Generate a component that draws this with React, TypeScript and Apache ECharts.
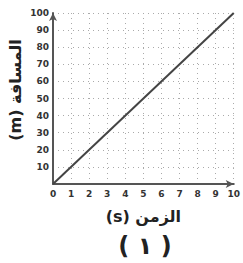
import React, { useEffect, useRef } from "react";
import * as echarts from "echarts";

const timeValues = [0, 10];
const distanceValues = [0, 100];
const yAxisTitle = "(m) المسافة";
const xAxisTitle = "(s) الزمن";
const caption = "( ١ )";

export default function App() {
  const ref = useRef<HTMLDivElement>(null);
  useEffect(() => {
    const chart = echarts.init(ref.current!, undefined, { renderer: "svg" });
    chart.setOption({
      animation: false,
      backgroundColor: "#fff",
      grid: { left: 53, top: 13, right: 4, bottom: 79, containLabel: false },
      xAxis: {
        type: "value",
        min: 0,
        max: 10,
        interval: 1,
        name: xAxisTitle,
        nameLocation: "middle",
        nameGap: 24,
        nameTextStyle: { fontSize: 16, fontWeight: "bold", color: "#222", fontFamily: "DejaVu Sans" },
        axisLine: { show: true, symbol: ["none", "arrow"], symbolSize: [6, 8], lineStyle: { color: "#555", width: 2 } },
        axisTick: { show: false },
        axisLabel: { fontSize: 9, fontWeight: "bold", color: "#333", margin: 5, fontFamily: "DejaVu Sans" },
        splitLine: { show: true, lineStyle: { color: "#aaa", type: [1, 4], width: 1 } },
      },
      yAxis: {
        type: "value",
        min: 0,
        max: 100,
        interval: 10,
        axisLine: { show: true, symbol: ["none", "arrow"], symbolSize: [6, 8], lineStyle: { color: "#555", width: 2 } },
        axisTick: { show: false },
        axisLabel: {
          fontSize: 9,
          fontWeight: "bold",
          color: "#333",
          margin: 4,
          fontFamily: "DejaVu Sans",
          formatter: (v: number) => (v === 0 ? "" : String(v)),
        },
        splitLine: { show: true, lineStyle: { color: "#aaa", type: [1, 4], width: 1 } },
      },
      series: [
        {
          type: "line",
          data: timeValues.map((t, i) => [t, distanceValues[i]]),
          showSymbol: false,
          lineStyle: { color: "#444", width: 2 },
        },
      ],
      graphic: [
        {
          type: "text",
          x: 15,
          y: 90,
          rotation: Math.PI / 2,
          style: {
            text: yAxisTitle,
            fontSize: 16,
            fontWeight: "bold",
            fill: "#222",
            fontFamily: "DejaVu Sans",
            align: "center",
            verticalAlign: "middle",
          },
        },
        {
          type: "text",
          x: 145,
          y: 246,
          style: {
            text: caption,
            fontSize: 24,
            fontWeight: "bold",
            fill: "#222",
            fontFamily: "DejaVu Sans",
            align: "center",
            verticalAlign: "middle",
          },
        },
      ],
    });
    return () => chart.dispose();
  }, []);
  return <div ref={ref} style={{ width: 243, height: 263, position: "absolute", left: 0, top: 0 }} />;
}
